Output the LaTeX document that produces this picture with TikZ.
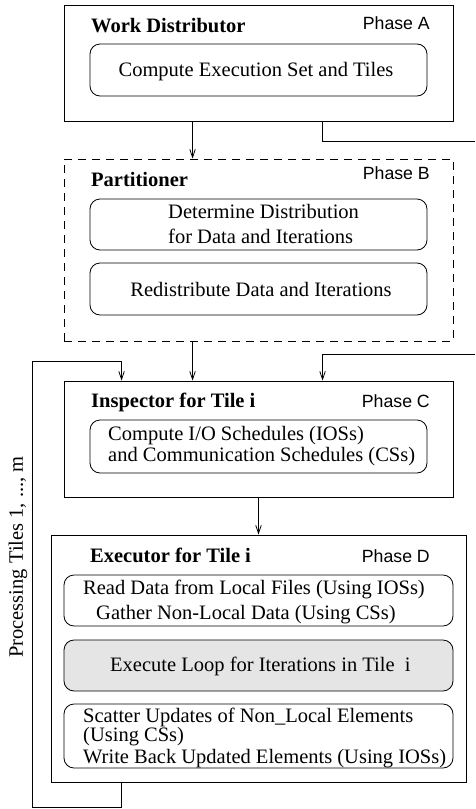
\documentclass[tikz,border=0pt]{standalone}
\usepackage{fontspec}
\setmainfont{Liberation Serif}
\setsansfont{Liberation Sans}
\usetikzlibrary{arrows.meta,calc}
\begin{document}
\begin{tikzpicture}[x=1pt,y=-1pt,
  every node/.style={inner sep=0pt},
  outer/.style={draw,line width=0.9pt,minimum width=389pt,minimum height=#1},
  inner/.style={draw,line width=0.8pt,rounded corners=10pt,minimum width=337pt,minimum height=#1},
  innerD/.style={draw,line width=0.8pt,rounded corners=10pt,minimum width=389pt,minimum height=#1},
  txt/.style={font=\fontsize{20.5}{24}\selectfont},
  btxt/.style={font=\fontsize{20.5}{24}\selectfont\bfseries},
  phase/.style={font=\fontsize{17.7}{20}\sffamily,anchor=base east},
  arr/.style={line width=0.8pt,-{Straight Barb[length=8pt,width=5.5pt]}},
  conn/.style={line width=0.8pt}
]
\useasboundingbox (0,0) rectangle (475,809);

% Phase A
\node[outer=116pt] (A) at (258.5,63) {};
\node[inner=52pt] (A1) at (258.5,70) {};
\node[btxt,anchor=base west] (Atitle) at (91,32) {Work Distributor};
\node[phase] (Aphase) at (430,29.5) {Phase A};
\node[txt,anchor=base] (A1t) at (256,76.7) {Compute Execution Set and Tiles};

% Phase B
\node[outer=182pt,dashed,dash pattern=on 8pt off 6pt] (B) at (258.5,250) {};
\node[inner=51pt] (B1) at (258.5,224.5) {};
\node[inner=52pt] (B2) at (258.5,289) {};
\node[btxt,anchor=base west] (Btitle) at (91,186.7) {Partitioner};
\node[phase] (Bphase) at (430,179.5) {Phase B};
\node[txt,anchor=base west] (B1a) at (168,218.3) {Determine Distribution};
\node[txt,anchor=base west] (B1b) at (168,243.3) {for Data and Iterations};
\node[txt,anchor=base] (B2t) at (261,296) {Redistribute Data and Iterations};

% Phase C
\node[outer=116pt] (C) at (258.5,439) {};
\node[inner=53pt] (C1) at (258.5,446.5) {};
\node[btxt,anchor=base west] (Ctitle) at (91,407.3) {Inspector for Tile i};
\node[phase] (Cphase) at (430,407) {Phase C};
\node[txt,anchor=base west] (C1a) at (108,440.5) {Compute I/O Schedules (IOSs)};
\node[txt,anchor=base west] (C1b) at (108,461.7) {and Communication Schedules (CSs)};

% Phase D
\node[draw,line width=0.9pt,minimum width=415pt,minimum height=247pt] (D) at (258.5,658.5) {};
\node[innerD=51pt] (D1) at (258.5,600.5) {};
\node[innerD=51pt,fill=black!10] (D2) at (258.5,665.5) {};
\node[innerD=64pt] (D3) at (258.5,736) {};
\node[btxt,anchor=base west] (Dtitle) at (90,562.7) {Executor for Tile i};
\node[phase] (Dphase) at (430,562) {Phase D};
\node[txt,anchor=base west] (D1a) at (83,594.3) {Read Data from Local Files (Using IOSs)};
\node[txt,anchor=base west] (D1b) at (96,619.3) {Gather Non-Local Data (Using CSs)};
\node[txt,anchor=base west] (D2t) at (110,671.7) {Execute Loop for Iterations in Tile\ \ i};
\node[txt,anchor=base west] (D3a) at (83,722.3) {Scatter Updates of Non\_Local Elements};
\node[txt,anchor=base west] (D3b) at (83,741.6) {(Using CSs)};
\node[txt,anchor=base west] (D3c) at (83,763.3) {Write Back Updated Elements (Using IOSs)};

% loop label
\node[txt,rotate=90,anchor=base] (loopt) at (23,557) {Processing Tiles 1, ..., m};

% free ends
\coordinate (eA) at (475,141);
\coordinate (eC) at (475,354);
\coordinate (loopA) at (32,807);
\coordinate (loopB) at (32,361);

% connectors
\draw[arr] ([xshift=129pt]A.south west) -- ([xshift=129pt]B.north west);
\draw[conn] ([xshift=259pt]A.south west) |- (eA);
\draw[arr] ([xshift=129pt]B.south west) -- ([xshift=129pt]C.north west);
\draw[arr] (eC) -| ([xshift=259pt]C.north west);
\draw[arr] (C.south) -- (D.north);
\draw[arr] ([xshift=71pt]D.south west) |- (loopA) -- (loopB) -| ([xshift=58pt]C.north west);
\end{tikzpicture}
\end{document}
